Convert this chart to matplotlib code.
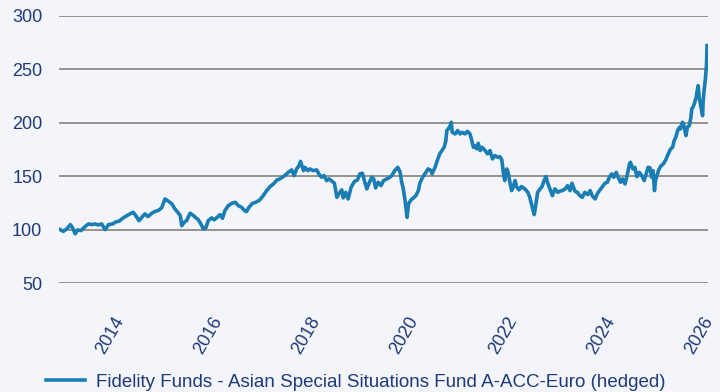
import matplotlib.pyplot as plt

# fund price index (start = 100), time as decimal years
years = [
    2012.98, 2013.05, 2013.12, 2013.19, 2013.23, 2013.29, 2013.34, 2013.41, 2013.49, 2013.56,
    2013.63, 2013.69, 2013.76, 2013.83, 2013.90, 2013.97, 2014.05, 2014.12, 2014.18, 2014.27,
    2014.37, 2014.47, 2014.51, 2014.59, 2014.66, 2014.71, 2014.77, 2014.85, 2014.92, 2014.98,
    2015.05, 2015.12, 2015.19, 2015.26, 2015.32, 2015.38, 2015.43, 2015.46, 2015.51, 2015.56,
    2015.63, 2015.70, 2015.75, 2015.80, 2015.85, 2015.90, 2015.95, 2016.00, 2016.07, 2016.12,
    2016.17, 2016.24, 2016.29, 2016.34, 2016.41, 2016.48, 2016.55, 2016.61, 2016.68, 2016.74,
    2016.78, 2016.83, 2016.90, 2016.97, 2017.05, 2017.12, 2017.19, 2017.26, 2017.33, 2017.40,
    2017.46, 2017.56, 2017.63, 2017.70, 2017.75, 2017.80, 2017.85, 2017.88, 2017.94, 2017.97,
    2018.03, 2018.07, 2018.14, 2018.21, 2018.26, 2018.31, 2018.36, 2018.41, 2018.46, 2018.52,
    2018.57, 2018.62, 2018.66, 2018.72, 2018.75, 2018.80, 2018.85, 2018.91, 2018.98, 2019.04,
    2019.09, 2019.14, 2019.18, 2019.23, 2019.27, 2019.33, 2019.37, 2019.41, 2019.46, 2019.52,
    2019.57, 2019.64, 2019.70, 2019.74, 2019.80, 2019.86, 2019.91, 2019.94, 2019.97, 2020.01,
    2020.03, 2020.05, 2020.08, 2020.13, 2020.18, 2020.23, 2020.28, 2020.31, 2020.36, 2020.42,
    2020.48, 2020.54, 2020.56, 2020.62, 2020.67, 2020.72, 2020.77, 2020.81, 2020.84, 2020.86,
    2020.89, 2020.93, 2020.95, 2020.97, 2021.03, 2021.08, 2021.13, 2021.17, 2021.23, 2021.28,
    2021.33, 2021.36, 2021.40, 2021.43, 2021.47, 2021.50, 2021.54, 2021.58, 2021.64, 2021.69,
    2021.74, 2021.79, 2021.84, 2021.90, 2021.94, 2021.98, 2022.01, 2022.04, 2022.08, 2022.11,
    2022.15, 2022.18, 2022.21, 2022.25, 2022.28, 2022.33, 2022.38, 2022.45, 2022.51, 2022.55,
    2022.60, 2022.64, 2022.67, 2022.71, 2022.76, 2022.80, 2022.84, 2022.88, 2022.91, 2022.96,
    2023.01, 2023.06, 2023.12, 2023.16, 2023.21, 2023.27, 2023.32, 2023.37, 2023.41, 2023.47,
    2023.52, 2023.57, 2023.62, 2023.67, 2023.73, 2023.78, 2023.82, 2023.88, 2023.93, 2023.98,
    2024.03, 2024.08, 2024.13, 2024.17, 2024.22, 2024.26, 2024.31, 2024.35, 2024.40, 2024.44,
    2024.49, 2024.54, 2024.58, 2024.60, 2024.65, 2024.69, 2024.73, 2024.78, 2024.83, 2024.88,
    2024.93, 2024.96, 2025.00, 2025.03, 2025.06, 2025.09, 2025.11, 2025.13, 2025.17, 2025.21,
    2025.27, 2025.32, 2025.37, 2025.42, 2025.46, 2025.49, 2025.53, 2025.56, 2025.60, 2025.62,
    2025.66, 2025.69, 2025.71, 2025.73, 2025.76, 2025.80, 2025.83, 2025.85, 2025.88, 2025.91,
    2025.94, 2025.96, 2025.98, 2026.00, 2026.03, 2026.05, 2026.07, 2026.08, 2026.10, 2026.13,
    2026.15, 2026.16,
]
values = [
    100.0, 98.4, 100.7, 104.7, 102.2, 96.0, 99.7, 99.1, 102.8, 105.3,
    104.7, 105.3, 104.4, 105.3, 100.0, 104.7, 105.3, 107.2, 107.8, 111.0,
    113.8, 116.2, 114.0, 108.4, 112.2, 114.7, 112.2, 115.3, 117.1, 117.8,
    120.3, 128.7, 126.5, 124.1, 119.4, 116.2, 113.1, 103.7, 106.8, 108.4,
    115.3, 113.1, 111.0, 109.1, 105.3, 100.7, 101.6, 108.4, 111.0, 109.1,
    111.0, 114.0, 110.6, 117.8, 122.5, 124.6, 125.6, 122.5, 120.9, 117.8,
    116.9, 120.9, 124.6, 125.6, 127.8, 131.8, 136.5, 140.3, 142.8, 146.5,
    147.5, 150.6, 153.6, 155.9, 150.6, 156.8, 159.9, 163.9, 155.2, 158.3,
    155.2, 156.8, 155.2, 155.9, 151.5, 149.0, 150.6, 145.9, 147.5, 145.2,
    143.4, 130.2, 133.4, 137.2, 129.7, 134.9, 128.7, 139.6, 145.2, 146.5,
    152.2, 152.7, 145.9, 138.1, 142.8, 149.0, 147.5, 139.0, 144.3, 141.2,
    145.9, 147.5, 149.0, 150.6, 155.2, 158.3, 153.6, 144.3, 139.0, 127.2,
    119.4, 111.5, 124.1, 127.8, 129.7, 131.8, 136.5, 143.4, 148.4, 152.7,
    156.8, 155.2, 152.2, 158.3, 165.3, 171.4, 174.6, 177.7, 183.3, 192.7,
    194.3, 197.4, 200.5, 191.1, 189.6, 192.7, 189.6, 191.1, 189.6, 192.0,
    189.6, 184.9, 177.1, 178.6, 175.6, 180.8, 174.0, 177.1, 174.0, 170.9,
    174.0, 166.2, 169.3, 167.7, 168.3, 165.3, 153.6, 145.9, 156.8, 153.6,
    142.8, 136.5, 139.6, 145.9, 140.3, 137.2, 140.3, 138.1, 134.9, 130.2,
    120.9, 114.0, 122.5, 134.9, 138.1, 140.3, 145.9, 149.6, 144.3, 138.1,
    131.8, 138.1, 134.9, 135.9, 136.5, 138.1, 141.2, 136.5, 143.4, 135.9,
    134.9, 131.8, 130.2, 134.9, 132.8, 136.5, 131.8, 128.7, 134.0, 137.2,
    140.3, 143.4, 144.3, 149.0, 152.2, 149.0, 153.6, 149.0, 144.3, 147.5,
    142.8, 152.2, 161.5, 163.0, 156.8, 158.3, 149.6, 153.6, 150.6, 145.9,
    153.6, 158.3, 157.8, 149.0, 155.2, 136.5, 145.9, 149.0, 155.2, 159.0,
    161.5, 165.3, 170.9, 175.6, 177.1, 183.3, 187.1, 192.7, 195.8, 194.3,
    200.5, 197.4, 192.7, 188.0, 195.8, 197.4, 204.6, 213.0, 215.2, 219.2,
    223.9, 230.1, 234.8, 223.9, 216.1, 211.4, 206.7, 219.2, 230.1, 242.6,
    255.1, 272.3,
]
series_name = "Fidelity Funds - Asian Special Situations Fund A-ACC-Euro (hedged)"
y_ticks = [50, 100, 150, 200, 250, 300]
x_ticks = [2014, 2016, 2018, 2020, 2022, 2024, 2026]

bg = "#f3f5fb"
text_col = "#1f3a78"
line_col = "#1a7db3"

plt.rcParams['font.family'] = ['Liberation Sans', 'DejaVu Sans']

fig = plt.figure(figsize=(7.2, 3.92), dpi=100, facecolor=bg)
ax = fig.add_axes([59 / 720, 1 - 283 / 392, 649 / 720, 267 / 392])
ax.set_facecolor(bg)

ax.plot(years, values, color=line_col, lw=2.6, label=series_name, zorder=3)

ax.set_xlim(2012.96, 2026.18)
ax.set_ylim(50, 300)
ax.set_yticks(y_ticks)
ax.set_yticklabels([str(v) for v in y_ticks])
ax.set_xticks(x_ticks)
ax.set_xticklabels([str(v) for v in x_ticks], rotation=60, ha='center')
ax.tick_params(axis='y', length=0, pad=12, labelsize=13, labelcolor=text_col)
ax.tick_params(axis='x', length=0, pad=22, labelsize=13, labelcolor=text_col)
ax.grid(axis='y', color='#94948c', lw=1.4, zorder=1)
for s in ax.spines.values():
    s.set_visible(False)

fig.legend(loc='lower center', bbox_to_anchor=(0.494, -0.04), frameon=False,
           fontsize=13.5, labelcolor=text_col, handlelength=2.1, handletextpad=0.55)

fig.savefig("out.png", dpi=100, facecolor=bg)
